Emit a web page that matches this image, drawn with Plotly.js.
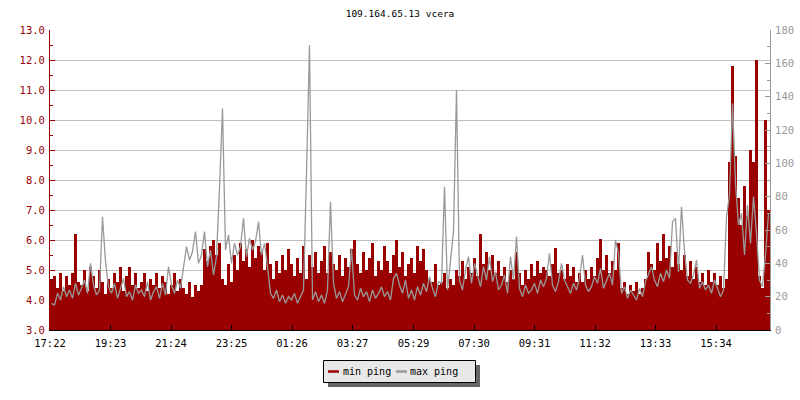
<!DOCTYPE html>
<html>
<head>
<meta charset="utf-8">
<script src="https://cdn.plot.ly/plotly-3.0.1.min.js"></script>
<style>html,body{margin:0;padding:0;background:#fff;}#chart{width:800px;height:400px;}</style>
</head>
<body>
<div id="chart"></div>
<script>
// Sample step in minutes from 17:22
const stepMinutes = 6;

// min ping (ms, left axis)
const minPing = [
  4.7, 4.8, 4.4, 4.9, 4.3, 4.8, 4.5, 4.9, 6.2, 4.6,
  4.5, 5.0, 4.3, 5.1, 4.8, 4.4, 5.0, 4.6, 4.2, 4.7,
  4.4, 4.9, 4.6, 5.1, 4.3, 4.8, 5.1, 4.5, 4.9, 4.4,
  4.6, 4.9, 4.3, 4.7, 4.5, 4.9, 4.4, 4.8, 4.6, 4.2,
  4.5, 4.9, 4.3, 4.7, 4.4, 4.2, 4.6, 4.1, 4.5, 4.3,
  4.5, 5.7, 5.3, 5.8, 6.0, 5.5, 5.9, 4.7, 4.5, 5.2,
  4.6, 5.5, 5.0, 5.9, 5.3, 5.7, 5.1, 6.0, 5.4, 5.8,
  5.6, 5.0, 5.9, 5.2, 4.7, 5.3, 4.9, 5.5, 5.0, 5.7,
  5.2, 4.8, 5.4, 4.9, 5.8, 4.7, 5.5, 5.1, 5.6, 4.9,
  5.3, 5.8, 4.9, 5.6, 5.2, 5.0, 5.5, 4.8, 5.4, 5.1,
  5.7, 6.0, 5.2, 4.9, 5.6, 5.0, 5.4, 5.9, 4.8, 5.3,
  5.0, 5.8, 5.3, 4.9, 5.5, 6.0, 5.1, 5.6, 4.8, 5.2,
  5.4, 4.9, 5.8, 5.3, 5.7, 5.0, 4.7, 4.6, 5.2, 4.5,
  4.6, 4.9, 4.4, 4.7, 4.5, 5.0, 4.8, 5.3, 4.7, 5.1,
  4.9, 5.4, 4.8, 6.2, 5.2, 5.6, 5.0, 5.5, 4.9, 5.3,
  4.8, 5.1, 4.6, 5.0, 4.7, 5.6, 4.9, 4.5, 5.0, 4.7,
  5.2, 4.8, 5.3, 4.9, 5.1, 5.0, 4.8, 5.2, 5.75, 4.9,
  5.0, 4.7, 5.2, 4.8, 5.1, 4.6, 4.9, 4.6, 5.0, 4.7,
  5.1, 4.8, 5.4, 6.05, 5.0, 5.5, 4.9, 5.3, 5.0, 5.9,
  4.4, 4.6, 4.2, 4.5, 4.3, 4.6, 4.2, 4.4, 4.7, 5.6,
  5.2, 5.0, 5.9, 5.3, 6.2, 5.4, 5.8, 5.1, 5.6, 5.2,
  5.0, 5.5, 4.8, 5.3, 4.7, 5.1, 4.6, 4.9, 4.5, 5.0,
  4.6, 4.9, 4.5, 4.8, 4.4, 4.7, 8.6, 11.8, 8.8, 7.4,
  6.5, 7.8, 6.8, 9.0, 8.6, 12.0, 4.8, 4.4, 10.0, 7.0
];

// max ping (ms, right axis)
const maxPing = [
  16, 15, 22, 18, 26, 20, 24, 19, 28, 21,
  25, 30, 22, 40, 27, 21, 24, 68, 41, 26,
  22, 28, 19, 25, 31, 20, 23, 18, 27, 22,
  24, 20, 29, 18, 23, 26, 19, 28, 21, 38,
  27, 22, 30, 25, 38, 50, 42, 47, 59, 40,
  45, 59, 38, 48, 33, 44, 85, 133, 48, 57,
  40, 52, 45, 50, 67, 44, 55, 48, 53, 65,
  45, 52, 38, 22, 19, 24, 17, 21, 16, 20,
  18, 22, 16, 20, 24, 94, 171, 18, 23, 17,
  21, 16, 24, 77, 28, 19, 23, 17, 22, 26,
  49, 21, 18, 25, 20, 23, 17, 24, 19, 22,
  26, 20, 23, 18, 31, 34, 27, 22, 30, 19,
  24, 18, 26, 21, 28, 23, 32, 25, 20, 29,
  28, 86, 24, 42, 59, 144, 30, 24, 36, 44,
  28, 40, 33, 26, 38, 30, 44, 29, 35, 24,
  27, 33, 22, 44, 30, 56, 25, 20, 27, 22,
  24, 28, 22, 30, 26, 31, 46, 27, 23, 29,
  40, 30, 26, 22, 28, 24, 31, 45, 27, 23,
  26, 32, 28, 37, 25, 30, 34, 27, 54, 46,
  22, 26, 19, 24, 21, 18, 25, 20, 29, 33,
  38, 30, 26, 34, 29, 36, 31, 65, 67, 35,
  74, 47, 30, 28, 33, 42, 25, 29, 24, 27,
  22, 30, 25, 20, 24, 68, 81, 136, 88, 63,
  70, 45, 75, 52, 80, 58, 30, 26, 45, 70
];

const tickMinutes = [0, 121, 242, 363, 484, 605, 727, 848, 969, 1090, 1211, 1332];
const tickLabels = ['17:22', '19:23', '21:24', '23:25', '01:26', '03:27', '05:29', '07:30', '09:31', '11:32', '13:33', '15:34'];
const legendNames = ['min ping', 'max ping'];

const minColor = '#990000';
const maxColor = '#999999';
const mono = 'DejaVu Sans Mono, monospace';

const xStart = minPing.map((_, i) => i * stepMinutes);
const xMid = maxPing.map((_, i) => i * stepMinutes + stepMinutes / 2);

// plot area geometry (pixels) used to place the hand-made legend box
const PL = 50, PR = 770, PT = 30, PB = 330;
const px = v => (v - PL) / (PR - PL);
const py = v => (PB - v) / (PB - PT);

const traces = [
  {
    x: xStart, y: minPing, type: 'bar', width: stepMinutes, offset: 0,
    marker: {color: minColor, line: {width: 0}}, showlegend: false, hoverinfo: 'skip', yaxis: 'y', name: legendNames[0]
  },
  {
    x: xMid, y: maxPing, type: 'scatter', mode: 'lines', line: {shape: 'linear', width: 1.3, color: maxColor},
    showlegend: false, hoverinfo: 'skip', yaxis: 'y2', name: legendNames[1]
  }
];

const shapes = [
  {type: 'rect', xref: 'paper', yref: 'paper', x0: px(328), x1: px(480), y0: py(387), y1: py(365),
   fillcolor: '#666666', line: {width: 0}},
  {type: 'rect', xref: 'paper', yref: 'paper', x0: px(323.5), x1: px(475.5), y0: py(382.5), y1: py(360.5),
   fillcolor: '#e8e8e8', line: {color: '#000', width: 1}},
  {type: 'line', xref: 'paper', yref: 'paper', x0: px(328), x1: px(339), y0: py(371.5), y1: py(371.5),
   line: {color: minColor, width: 2.5}},
  {type: 'line', xref: 'paper', yref: 'paper', x0: px(396), x1: px(407), y0: py(371.5), y1: py(371.5),
   line: {color: maxColor, width: 2.5}}
];

const annotations = [
  {xref: 'paper', yref: 'paper', x: px(341), y: py(371), xanchor: 'left', yanchor: 'middle', showarrow: false,
   text: legendNames[0], font: {family: mono, size: 10, color: '#000'}},
  {xref: 'paper', yref: 'paper', x: px(408), y: py(371), xanchor: 'left', yanchor: 'middle', showarrow: false,
   text: legendNames[1], font: {family: mono, size: 10, color: '#000'}}
];

const layout = {
  width: 800, height: 400,
  margin: {l: 50, r: 30, t: 30, b: 70},
  paper_bgcolor: '#ffffff', plot_bgcolor: '#ffffff',
  bargap: 0,
  title: {text: '109.164.65.13 vcera', x: 0.5, xanchor: 'center', y: 0.965, yanchor: 'middle',
          font: {family: mono, size: 9.5, color: '#000'}},
  xaxis: {
    range: [0, 1440], tickmode: 'array', tickvals: tickMinutes, ticktext: tickLabels,
    ticks: 'inside', ticklen: 5, tickcolor: '#000', showline: true, linecolor: '#000', linewidth: 1,
    showgrid: false, zeroline: false, tickfont: {family: mono, size: 10.5, color: '#000'},
    ticklabelstandoff: 3, fixedrange: true
  },
  yaxis: {
    range: [3, 13], dtick: 1, tick0: 3, tickformat: '.1f',
    ticks: 'inside', ticklen: 5, tickcolor: minColor, showline: true, linecolor: minColor, linewidth: 1,
    showgrid: true, gridcolor: '#c0c0c0', gridwidth: 1, zeroline: false,
    tickfont: {family: mono, size: 10.5, color: minColor}, ticklabelstandoff: 2,
    minor: {dtick: 0.5, tick0: 3, ticks: 'inside', ticklen: 3, tickcolor: minColor, showgrid: false},
    fixedrange: true
  },
  yaxis2: {
    overlaying: 'y', side: 'right', range: [0, 180], dtick: 20, tick0: 0,
    ticks: 'inside', ticklen: 5, tickcolor: maxColor, showline: true, linecolor: maxColor, linewidth: 1,
    showgrid: false, zeroline: false, tickfont: {family: mono, size: 10.5, color: maxColor}, ticklabelstandoff: 2,
    minor: {dtick: 10, tick0: 0, ticks: 'inside', ticklen: 3, tickcolor: maxColor, showgrid: false},
    fixedrange: true
  },
  showlegend: false,
  shapes: shapes,
  annotations: annotations
};

Plotly.newPlot('chart', traces, layout, {displayModeBar: false, staticPlot: true});
</script>
</body>
</html>
